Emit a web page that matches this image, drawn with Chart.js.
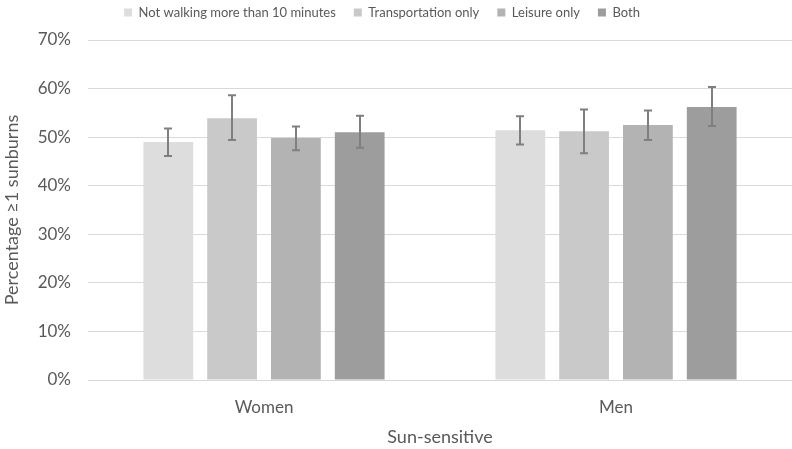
<!DOCTYPE html>
<html>
<head>
<meta charset="utf-8">
<script src="https://cdn.jsdelivr.net/npm/chart.js@4/dist/chart.umd.min.js"></script>
<style>
  html, body { margin: 0; padding: 0; background: #fff; }
  #wrap { width: 792px; height: 449px; position: relative; }
</style>
</head>
<body>
<div id="wrap"><canvas id="sunChart"></canvas></div>
<script>
  // Data (percent)
  const categories = ['Women', 'Men'];
  const seriesNames = ['Not walking more than 10 minutes', 'Transportation only', 'Leisure only', 'Both'];
  const notWalking = [49.0, 51.4];
  const transportOnly = [53.9, 51.2];
  const leisureOnly = [49.8, 52.5];
  const both = [51.0, 56.2];
  // error bar ends (low / high)
  const notWalkingErr = [[46.1, 51.8], [48.5, 54.3]];
  const transportOnlyErr = [[49.4, 58.6], [46.7, 55.7]];
  const leisureOnlyErr = [[47.3, 52.2], [49.4, 55.5]];
  const bothErr = [[47.8, 54.4], [52.3, 60.3]];
  const yTicks = [0, 10, 20, 30, 40, 50, 60, 70];

  const barColors = ['#dddddd', '#c9c9c9', '#b3b3b3', '#9d9d9d'];
  const textColor = '#595959';
  const fontFamily = 'Lato, "Open Sans", sans-serif';

  // simple error bar drawing
  const errorBars = {
    id: 'errorBars',
    afterDatasetsDraw(chart) {
      const ctx = chart.ctx;
      const y = chart.scales.y;
      ctx.save();
      ctx.strokeStyle = '#7f7f7f';
      ctx.lineWidth = 2;
      chart.data.datasets.forEach((ds, i) => {
        const meta = chart.getDatasetMeta(i);
        meta.data.forEach((bar, j) => {
          const lo = y.getPixelForValue(ds.errors[j][0]);
          const hi = y.getPixelForValue(ds.errors[j][1]);
          const x = Math.round(bar.x);
          ctx.beginPath();
          ctx.moveTo(x, lo); ctx.lineTo(x, hi);
          ctx.moveTo(x - 4, lo); ctx.lineTo(x + 4, lo);
          ctx.moveTo(x - 4, hi); ctx.lineTo(x + 4, hi);
          ctx.stroke();
        });
      });
      ctx.restore();
    }
  };

  // extra space under the legend, and nudge it a bit to the left
  const legendTweak = {
    id: 'legendTweak',
    beforeInit(chart) {
      const legend = chart.legend;
      const fit = legend.fit;
      const draw = legend.draw;
      legend.fit = function () {
        fit.call(legend);
        this.height += 11;
      };
      legend.draw = function () {
        chart.ctx.save();
        chart.ctx.translate(-14, 0);
        draw.apply(legend, arguments);
        chart.ctx.restore();
      };
    }
  };

  const values = [notWalking, transportOnly, leisureOnly, both];
  const errs = [notWalkingErr, transportOnlyErr, leisureOnlyErr, bothErr];

  new Chart(document.getElementById('sunChart'), {
    type: 'bar',
    data: {
      labels: categories,
      datasets: seriesNames.map((name, i) => ({
        label: name,
        data: values[i],
        errors: errs[i],
        backgroundColor: barColors[i],
        borderWidth: 0,
        categoryPercentage: 0.725,
        barPercentage: 0.78
      }))
    },
    plugins: [errorBars, legendTweak],
    options: {
      responsive: true,
      maintainAspectRatio: false,
      animation: false,
      layout: { padding: { left: 0, right: 0, top: -12, bottom: 1 } },
      plugins: {
        legend: {
          position: 'top',
          labels: {
            boxWidth: 8,
            boxHeight: 8,
            color: textColor,
            padding: 18,
            font: { family: fontFamily, size: 13 }
          }
        },
        tooltip: { enabled: false }
      },
      scales: {
        x: {
          grid: { display: false, drawTicks: false },
          border: { display: true, color: '#d9d9d9', width: 1 },
          ticks: { color: textColor, font: { family: fontFamily, size: 17 }, padding: 17 },
          title: { display: true, text: 'Sun-sensitive', color: textColor, font: { family: fontFamily, size: 18 }, padding: { top: -8, bottom: 0 } }
        },
        y: {
          min: 0,
          max: 70,
          afterBuildTicks: (axis) => { axis.ticks = yTicks.map(v => ({ value: v })); },
          grid: { color: '#d9d9d9', lineWidth: 1, drawTicks: false },
          border: { display: false },
          ticks: {
            color: textColor,
            padding: 17,
            font: { family: fontFamily, size: 17 },
            callback: (v) => v + '%'
          },
          title: { display: true, text: 'Percentage ≥1 sunburns', color: textColor, font: { family: fontFamily, size: 18 }, padding: { top: 1, bottom: 0 } },
          afterFit: (axis) => { axis.width = 88; }
        }
      }
    }
  });
</script>
</body>
</html>
